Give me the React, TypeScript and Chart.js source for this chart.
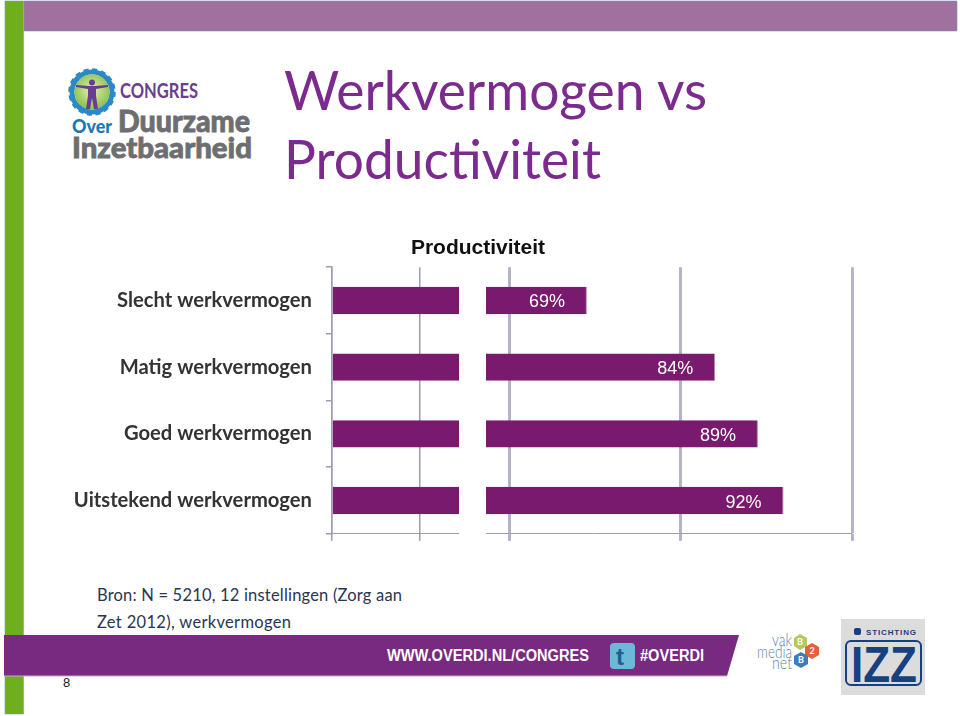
import React, { useEffect, useRef } from "react";
import { Chart, LinearScale, registerables } from "chart.js";

Chart.register(...registerables);

const categories = ["Slecht werkvermogen", "Matig werkvermogen", "Goed werkvermogen", "Uitstekend werkvermogen"];
const productivity = [69, 84, 89, 92];
const valueLabels = ["69%", "84%", "89%", "92%"];
const xTicks = [0, 10, 60, 80, 100];
const axisBreak = [14.4, 57.2];
const chartTitle = "Productiviteit";
const slideTitle = ["Werkvermogen vs", "Productiviteit"];
const sourceLines = ["Bron: N = 5210, 12 instellingen (Zorg aan", "Zet 2012), werkvermogen"];

const BAR = "#791A6E";
const AXIS = "#9C9CB2";
const AXIS_THICK = "#B4B4C6";
const BREAK_START = 127 / 520;
const BREAK_END = 154 / 520;

class BrokenLinearScale extends LinearScale {
  static id = "brokenLinear";
  static defaults = (LinearScale as any).defaults;
  getPixelForValue(value: number) {
    const [lo, hi] = axisBreak;
    const max = (this as any).max as number;
    let f: number;
    if (value <= lo) f = (value / lo) * BREAK_START;
    else if (value <= hi) f = BREAK_START + ((value - lo) / (hi - lo)) * (BREAK_END - BREAK_START);
    else f = BREAK_END + ((value - hi) / (max - hi)) * (1 - BREAK_END);
    return (this as any).left + f * (this as any).width;
  }
}
Chart.register(BrokenLinearScale as any);

const breakMask = {
  id: "breakMask",
  afterDatasetsDraw(chart: any) {
    const { ctx, chartArea, scales } = chart;
    const a = scales.x.getPixelForValue(axisBreak[0]);
    const b = scales.x.getPixelForValue(axisBreak[1]);
    ctx.save();
    ctx.fillStyle = "#ffffff";
    ctx.fillRect(a, chartArea.top - 2, b - a, chartArea.bottom - chartArea.top + 12);
    ctx.restore();
  },
};

const barLabels = {
  id: "barLabels",
  afterDatasetsDraw(chart: any) {
    const { ctx } = chart;
    const meta = chart.getDatasetMeta(0);
    ctx.save();
    ctx.font = "18px 'Liberation Sans'";
    ctx.fillStyle = "#ffffff";
    ctx.textAlign = "right";
    ctx.textBaseline = "middle";
    meta.data.forEach((el: any, i: number) => {
      ctx.fillText(valueLabels[i], el.x - 22, el.y + 2);
    });
    ctx.restore();
  },
};

function Backdrop() {
  const purple = "#7B2A8E";
  const grey = "#6D6E71";
  return (
    <svg width={960} height={716} style={{ position: "absolute", left: 0, top: 0 }}>
      <defs>
        <radialGradient id="disk" cx="50%" cy="45%" r="55%">
          <stop offset="0%" stopColor="#E4EFB6" />
          <stop offset="100%" stopColor="#8CC04B" />
        </radialGradient>
      </defs>
      <rect x={5} y={1} width={18.5} height={713} fill="#6FAE1C" stroke="#7F9DB9" strokeWidth={0.6} />
      <rect x={24} y={1} width={933} height={30} fill="#A0709F" stroke="#7F8FB9" strokeWidth={0.6} />

      {/* Congress logo */}
      <circle cx={92} cy={92} r={20} fill="none" stroke="#2B8AC6" strokeWidth={5} />
      <circle cx={92} cy={92} r={22} fill="none" stroke="#2B8AC6" strokeWidth={3.5} strokeDasharray="5 3.6" />
      <circle cx={92} cy={92} r={17.5} fill="url(#disk)" />
      <path d="M76 85 L89 86 L95 86 L108 85 L108 87 L96 89 L96 96 L98 109 L94 109 L92 98 L90 109 L86 109 L88 96 L88 89 L76 87 Z" fill="#6A3D8F" />
      <circle cx={92} cy={82.5} r={3} fill="#6A3D8F" />
      <text x={120} y={98} fontFamily="Lato" fontWeight={700} fontSize={21} fill="#6A3D8F" textLength={78} lengthAdjust="spacingAndGlyphs">CONGRES</text>
      <text x={72} y={133} fontFamily="Lato" fontWeight={900} fontSize={19} fill="#1A76B8" textLength={40} lengthAdjust="spacingAndGlyphs">Over</text>
      <text x={118} y={132} fontFamily="Lato" fontWeight={900} fontSize={30} fill={grey} stroke={grey} strokeWidth={0.8} textLength={132} lengthAdjust="spacingAndGlyphs">Duurzame</text>
      <text x={72} y={158} fontFamily="Lato" fontWeight={900} fontSize={29} fill={grey} stroke={grey} strokeWidth={0.8} textLength={180} lengthAdjust="spacingAndGlyphs">Inzetbaarheid</text>

      {/* Slide title */}
      <text x={284} y={110} fontFamily="Lato" fontSize={54} fill={purple} textLength={423} lengthAdjust="spacingAndGlyphs">{slideTitle[0]}</text>
      <text x={284} y={179} fontFamily="Lato" fontSize={54} fill={purple} textLength={317} lengthAdjust="spacingAndGlyphs">{slideTitle[1]}</text>

      {/* Source */}
      <text x={97} y={601} fontFamily="Lato" fontSize={16.5} fill="#2A3550" textLength={305}>{sourceLines[0]}</text>
      <text x={97} y={628} fontFamily="Lato" fontSize={16.5} fill="#2A3550" textLength={194}>{sourceLines[1]}</text>

      {/* Footer band */}
      <polygon points="4,635 739,635 727,676 4,676" fill="#772A80" />
      <line x1={4} y1={676} x2={727} y2={676} stroke="#C9A6CC" strokeWidth={1} />
      <text x={387} y={661} fontFamily="Liberation Sans" fontWeight={700} fontSize={16} fill="#ffffff" textLength={202} lengthAdjust="spacingAndGlyphs">WWW.OVERDI.NL/CONGRES</text>
      <rect x={610} y={643} width={25} height={26} rx={4} fill="#6BB8D8" />
      <text x={616} y={665} fontFamily="Liberation Sans" fontWeight={700} fontSize={24} fill="#1E5F8C">t</text>
      <text x={640} y={661} fontFamily="Liberation Sans" fontWeight={700} fontSize={16} fill="#ffffff" textLength={64} lengthAdjust="spacingAndGlyphs">#OVERDI</text>
      <text x={63} y={687} fontFamily="Liberation Sans" fontSize={13} fill="#222222">8</text>

      {/* Vakmedianet */}
      <text x={792} y={646} textAnchor="end" fontFamily="Lato" fontWeight={300} fontSize={17} fill="#5D84A8" textLength={20} lengthAdjust="spacingAndGlyphs">vak</text>
      <text x={792} y={658} textAnchor="end" fontFamily="Lato" fontWeight={300} fontSize={17} fill="#5D84A8" textLength={35} lengthAdjust="spacingAndGlyphs">media</text>
      <text x={792} y={669} textAnchor="end" fontFamily="Lato" fontWeight={300} fontSize={17} fill="#5D84A8" textLength={20} lengthAdjust="spacingAndGlyphs">net</text>
      <polygon points="800,634 807,638 807,646 800,650 794,646 794,638" fill="#B4C95A" />
      <polygon points="812,643 819,647 819,655 812,659 805,655 805,647" fill="#E5603C" />
      <polygon points="801,652 808,656 808,664 801,668 794,664 794,656" fill="#3E7DB8" />
      <text x={800} y={645} textAnchor="middle" fontFamily="Lato" fontWeight={700} fontSize={9} fill="#ffffff">B</text>
      <text x={812} y={654} textAnchor="middle" fontFamily="Lato" fontWeight={700} fontSize={9} fill="#ffffff">2</text>
      <text x={801} y={663} textAnchor="middle" fontFamily="Lato" fontWeight={700} fontSize={9} fill="#ffffff">B</text>

      {/* IZZ */}
      <rect x={841} y={619} width={84} height={76} fill="#DCDCDC" />
      <rect x={854} y={628} width={7} height={7} rx={2} fill="#16407F" />
      <text x={866} y={635} fontFamily="Liberation Sans" fontWeight={700} fontSize={8} fill="#16407F" textLength={50}>STICHTING</text>
      <rect x={846} y={641} width={75} height={44} rx={5} fill="none" stroke="#16407F" strokeWidth={2} />
      <text x={851} y={682} fontFamily="Liberation Sans" fontWeight={700} fontSize={50} fill="#16407F" textLength={66} lengthAdjust="spacingAndGlyphs">IZZ</text>
    </svg>
  );
}

export default function App() {
  const ref = useRef<HTMLCanvasElement>(null);

  useEffect(() => {
    const chart = new Chart(ref.current as HTMLCanvasElement, {
      type: "bar",
      data: {
        labels: categories,
        datasets: [
          {
            data: productivity,
            backgroundColor: BAR,
            borderColor: "#B98BB4",
            borderWidth: { right: 1 } as any,
            categoryPercentage: 1,
            barPercentage: 0.41,
          },
        ],
      },
      options: {
        indexAxis: "y",
        animation: false,
        responsive: false,
        layout: { padding: { right: 104, left: 104, top: 0, bottom: 0 } },
        plugins: {
          legend: { display: false },
          tooltip: { enabled: false },
          title: {
            display: true,
            text: chartTitle,
            color: "#111111",
            font: { family: "'Liberation Sans'", size: 21, weight: "bold", lineHeight: 1.15 },
            padding: { top: 0, bottom: 7 },
          },
        },
        scales: {
          x: {
            type: "brokenLinear" as any,
            min: 0,
            max: 100,
            afterBuildTicks(scale: any) {
              scale.ticks = xTicks.map((value) => ({ value }));
            },
            afterFit(scale: any) {
              scale.height = 7;
            },
            ticks: { display: false },
            border: { display: true, color: AXIS, width: 1 },
            grid: {
              color: (c: any) => (c.tick && c.tick.value >= 60 ? AXIS_THICK : AXIS),
              lineWidth: (c: any) => (c.tick && c.tick.value >= 60 ? 3 : 1.5),
              tickColor: (c: any) => (c.tick && c.tick.value >= 60 ? AXIS_THICK : AXIS),
              tickLength: 7,
              drawTicks: true,
            },
          } as any,
          y: {
            afterFit(scale: any) {
              scale.width = 228;
            },
            afterUpdate(scale: any) {
              // Long labels run past the axis box on the left; keep them unclipped.
              scale._computeLabelArea = () => undefined;
            },
            ticks: {
              color: "#333333",
              font: { family: "Lato", size: 20.2, weight: "bold" },
              padding: 14,
              autoSkip: false,
            },
            border: { display: true, color: AXIS, width: 1.5 },
            grid: {
              offset: true,
              drawOnChartArea: false,
              drawTicks: true,
              tickLength: 6,
              tickColor: AXIS,
              lineWidth: 1.5,
            },
          },
        },
      },
      plugins: [breakMask, barLabels],
    } as any);
    return () => chart.destroy();
  }, []);

  return (
    <div style={{ position: "absolute", left: 0, top: 0, width: 960, height: 716, overflow: "hidden", background: "#fff" }}>
      <Backdrop />
      <canvas ref={ref} width={956} height={324} style={{ position: "absolute", left: 0, top: 236, width: 956, height: 324 }} />
    </div>
  );
}
